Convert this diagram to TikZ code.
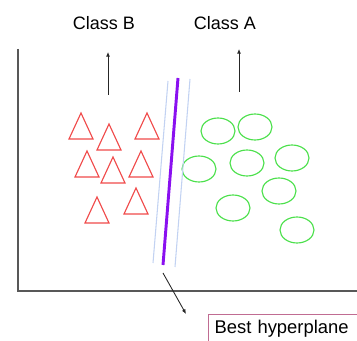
\documentclass[tikz,border=0pt]{standalone}
\usepackage{fontspec}
\setmainfont{Liberation Sans}
\definecolor{svmRed}{HTML}{F04A4A}
\definecolor{svmGreen}{HTML}{4CE04C}
\definecolor{svmPurple}{HTML}{8A10F0}
\definecolor{svmSky}{HTML}{C2D2F2}
\definecolor{svmRose}{HTML}{C06C92}
\definecolor{svmAxis}{HTML}{585858}
\usetikzlibrary{
	arrows.meta,
	positioning,
	shapes.geometric
}
\tikzset{
	rotulo/.style={
		font=\fontsize{13.5}{16}\selectfont,
		inner sep=0pt
	},
	marcaB/.style={
		draw=svmRed,
		line width=0.85pt,
		line join=miter
	},
	marcaA/.style={
		draw=svmGreen,
		line width=0.85pt,
		ellipse,
		minimum width=25.5pt,
		minimum height=19.5pt,
		inner sep=0pt
	},
	flecha/.style={
		-{Latex[length=3.5pt,width=3pt]},
		line width=0.65pt,
		black!85
	},
	hiperplano/.style={
		svmPurple,
		line width=2.2pt
	},
	margen/.style={
		svmSky,
		line width=0.8pt
	},
	nota/.style={
		draw=svmRose,
		line width=0.9pt,
		anchor=north west,
		font=\fontsize{13.8}{16}\selectfont,
		align=left,
		text width=130pt,
		text depth=14pt,
		inner xsep=4.5pt,
		inner ysep=4.5pt
	}
}
\begin{document}
\begin{tikzpicture}[x=0.75pt,y=-0.75pt]
	\useasboundingbox (0,0) rectangle (357,341);
	% ejes
	\draw[svmAxis, line width=0.9pt] (18,49) -- (18,291) -- (357,291);
	% etiquetas de clase
	\node[rotulo] (claseB) at (104,23) {Class B};
	\node[rotulo] (claseA) at (225,23) {Class A};
	\coordinate (pieB) at (108,95);
	\coordinate (puntaB) at (108,52);
	\coordinate (pieA) at (239,92);
	\coordinate (puntaA) at (239,49);
	\draw[flecha] (pieB) -- (puntaB);
	\draw[flecha] (pieA) -- (puntaA);
	% clase B: triangulos
	\foreach \x/\y in {81/113,109/124,147/113,87/151,113/157,141/151,97/197,136/188}{
		\draw[marcaB] (\x,\y) -- (\x+12,\y+26) -- (\x-12,\y+26) -- cycle;
	}
	% clase A: circulos
	\foreach \x/\y [count=\i] in {218/131,255/127,199/169,247/163,292/158,279/191,233/208,297/230}{
		\node[marcaA] (circA\i) at (\x,\y) {};
	}
	% margenes e hiperplano
	\draw[margen] (168,81) -- (153,263);
	\draw[margen] (190,79) -- (175,267);
	\coordinate (hipArriba) at (178,78);
	\coordinate (hipAbajo) at (163,265);
	\draw[hiperplano] (hipArriba) -- (hipAbajo);
	% nota
	\node[nota] (mejor) at (208,314) {Best hyperplane};
	\coordinate (salida) at (163,273);
	\draw[flecha] (salida) -- (mejor.north west -| 186,0);
\end{tikzpicture}
\end{document}
